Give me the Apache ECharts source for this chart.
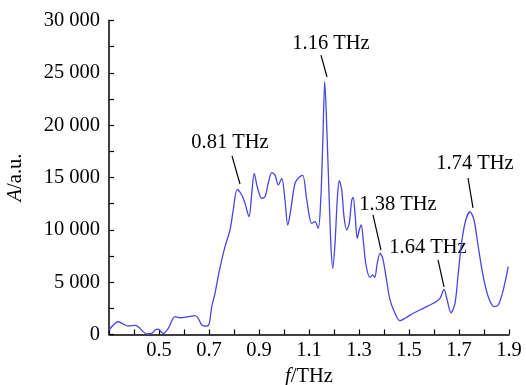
<!DOCTYPE html>
<html>
<head>
<meta charset="utf-8">
<script src="https://cdn.jsdelivr.net/npm/echarts@6/dist/echarts.min.js"></script>
<style>
  html, body { margin: 0; padding: 0; background: #fff; }
  #chart { width: 526px; height: 385px; }
</style>
</head>
<body>
<div id="chart"></div>
<script>
// 频率 (THz)
const freqs = [
  0.300, 0.337, 0.357, 0.377, 0.404, 0.417, 0.437, 0.451, 0.471, 0.484,
  0.497, 0.508, 0.517, 0.537, 0.564, 0.584, 0.617, 0.644, 0.657, 0.671,
  0.691, 0.701, 0.711, 0.724, 0.744, 0.764, 0.784, 0.797, 0.813, 0.831,
  0.844, 0.860, 0.871, 0.881, 0.893, 0.911, 0.924, 0.937, 0.951, 0.964,
  0.977, 0.991, 1.004, 1.015, 1.027, 1.044, 1.060, 1.075, 1.091, 1.111,
  1.124, 1.137, 1.147, 1.155, 1.163, 1.171, 1.180, 1.188, 1.195, 1.204,
  1.213, 1.221, 1.231, 1.240, 1.251, 1.261, 1.271, 1.277, 1.285, 1.293,
  1.301, 1.309, 1.317, 1.328, 1.344, 1.355, 1.363, 1.373, 1.384, 1.395,
  1.408, 1.424, 1.444, 1.464, 1.484, 1.517, 1.557, 1.597, 1.624, 1.640,
  1.651, 1.668, 1.684, 1.697, 1.711, 1.727, 1.744, 1.760, 1.777, 1.797,
  1.817, 1.840, 1.857, 1.877, 1.897
]
// 幅值 (a.u.)
const amps = [
  430, 1220, 1000, 810, 880, 750, 270, 50, 100, 430,
  520, 270, 100, 590, 1700, 1600, 1700, 1800, 1550, 910,
  810, 1070, 2660, 3940, 6400, 8390, 9980, 11900, 13870, 13330,
  12530, 11250, 13490, 15400, 14120, 13010, 13170, 14450, 15460, 15240,
  14280, 14920, 12850, 10460, 11890, 14450, 15000, 15200, 12850, 10620,
  10780, 10150, 12850, 18270, 24150, 19850, 13490, 8390, 6320, 8710,
  12850, 14690, 13800, 11250, 9980, 10620, 12850, 13110, 11250, 9190,
  9980, 10460, 9030, 6640, 5450, 5690, 5460, 6800, 7760, 7280,
  5520, 3300, 2030, 1320, 1550, 2030, 2500, 2980, 3460, 4320,
  3460, 2080, 2980, 5850, 8870, 10940, 11730, 10940, 8390, 5520,
  3610, 2660, 2820, 4250, 6480
]

// 峰值标注
const peakNames = ['0.81 THz', '1.16 THz', '1.38 THz', '1.64 THz', '1.74 THz']
const labelAt = [[0.784, 18300], [1.188, 27750], [1.456, 12370], [1.576, 8260], [1.764, 16280]]
const leaderFrom = [[0.792, 17060], [1.148, 26700], [1.356, 11420], [1.616, 7120], [1.736, 14950]]
const leaderTo = [[0.824, 14380], [1.172, 24600], [1.388, 8070], [1.640, 4540], [1.756, 12090]]

const yTicks = [0, 5000, 10000, 15000, 20000, 25000, 30000]
const xLabelTicks = ['0.5', '0.7', '0.9', '1.1', '1.3', '1.5', '1.7', '1.9']

const FONT = "'Liberation Serif', 'Times New Roman', serif"
const FS = 20.5
const fmtThousands = v => String(v).replace(/\B(?=(\d{3})+(?!\d))/g, ' ')

const chart = echarts.init(document.getElementById('chart'))

const option = {
  animation: false,
  textStyle: { fontFamily: FONT, color: '#000' },
  grid: { left: 109, right: 17, top: 20.5, bottom: 50.5, containLabel: false, outerBoundsMode: 'none' },
  xAxis: {
    type: 'value',
    min: 0.3,
    max: 1.9,
    interval: 0.2,
    name: '{i|f}/THz',
    nameLocation: 'middle',
    nameGap: 28,
    nameTextStyle: {
      fontFamily: FONT, fontSize: FS, color: '#000',
      rich: { i: { fontFamily: FONT, fontSize: FS, fontStyle: 'italic', color: '#000' } }
    },
    axisLine: { show: true, onZero: false, lineStyle: { color: '#000', width: 1.5 } },
    axisTick: { show: true, inside: true, length: 5, lineStyle: { color: '#000', width: 1.2 } },
    minorTick: { show: true, splitNumber: 2, length: 5, lineStyle: { color: '#000', width: 1.2 } },
    splitLine: { show: false },
    axisLabel: {
      fontFamily: FONT, fontSize: FS, color: '#000', margin: 6,
      formatter: v => {
        const s = (Math.round(v * 10) / 10).toFixed(1)
        return xLabelTicks.includes(s) ? s : ''
      }
    }
  },
  yAxis: {
    type: 'value',
    min: yTicks[0],
    max: yTicks[yTicks.length - 1],
    interval: 5000,
    name: '{i|A}/a.u.',
    nameLocation: 'middle',
    nameGap: 83,
    nameTextStyle: {
      fontFamily: FONT, fontSize: FS, color: '#000',
      rich: { i: { fontFamily: FONT, fontSize: FS, fontStyle: 'italic', color: '#000' } }
    },
    axisLine: { show: true, lineStyle: { color: '#000', width: 1.5 } },
    axisTick: { show: true, inside: true, length: 5, lineStyle: { color: '#000', width: 1.2 } },
    minorTick: { show: true, splitNumber: 2, length: 5, lineStyle: { color: '#000', width: 1.2 } },
    splitLine: { show: false },
    axisLabel: { fontFamily: FONT, fontSize: FS, color: '#000', margin: 9, formatter: fmtThousands }
  },
  series: [
    {
      type: 'line',
      data: freqs.map((f, i) => [f, amps[i]]),
      smooth: 0.3,
      showSymbol: false,
      lineStyle: { color: '#4646e4', width: 1.3 },
      markLine: {
        silent: true,
        symbol: ['none', 'none'],
        label: { show: false },
        lineStyle: { color: '#000', width: 1.2, type: 'solid', opacity: 1 },
        data: leaderFrom.map((p, i) => [{ coord: p }, { coord: leaderTo[i] }])
      }
    },
    {
      type: 'scatter',
      symbolSize: 0,
      silent: true,
      itemStyle: { opacity: 1 },
      data: labelAt.map((p, i) => ({ value: p, name: peakNames[i] })),
      label: {
        show: true,
        position: 'inside',
        formatter: p => p.name,
        fontFamily: FONT,
        fontSize: FS,
        color: '#000',
        opacity: 1,
        textBorderWidth: 0
      }
    }
  ]
}

chart.setOption(option)
</script>
</body>
</html>
